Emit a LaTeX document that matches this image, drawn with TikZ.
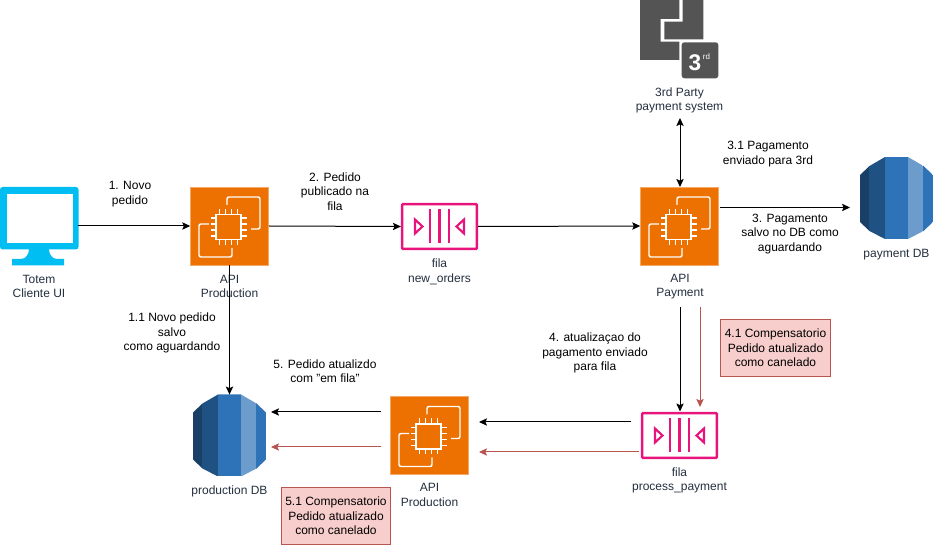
\documentclass[tikz,border=0pt]{standalone}
\usepackage{fontspec}
\setmainfont{Liberation Sans}
\usepackage{xcolor}
\usetikzlibrary{arrows.meta,shapes}
\definecolor{awsorange}{HTML}{ED7100}
\definecolor{queuepink}{HTML}{E7157B}
\definecolor{totemblue}{HTML}{00BEF2}
\definecolor{labelgrey}{HTML}{232F3E}
\definecolor{thirdgrey}{HTML}{545454}
\definecolor{compred}{HTML}{B85450}
\definecolor{compfill}{HTML}{F8CECC}
\definecolor{dbA}{HTML}{1A3F66}
\definecolor{dbB}{HTML}{1F5182}
\definecolor{dbC}{HTML}{2E73B8}
\definecolor{dbD}{HTML}{6B9CCC}
\tikzset{
	lbl/.style={align=center,inner sep=0pt,font=\fontsize{9}{10.8}\selectfont},
	iconlbl/.style={lbl,text=labelgrey},
	compbox/.style={lbl,draw=compred,fill=compfill,line width=0.6pt,minimum width=82pt,minimum height=43pt},
	apibox/.style={fill=awsorange,draw=awsorange!60,line width=0.4pt,inner sep=0pt,minimum width=58.5pt,minimum height=58.5pt},
	queuebox/.style={draw=queuepink,line width=1.9pt,rounded corners=0.6pt,inner sep=0pt,minimum width=56pt,minimum height=33.5pt},
	dbbox/.style={inner sep=0pt,minimum width=55pt,minimum height=61pt},
	iconbox/.style={inner sep=0pt,minimum width=58.5pt,minimum height=58.5pt},
	comp/.style={draw=compred},
	pics/apiicon/.style={code={
		\draw[white,line width=1.1pt,rounded corners=1.5pt]
			(-2.5,-21) -- (-2.5,-29) -- (30.5,-29) -- (30.5,3) -- (21.5,3)
			(2.5,22) -- (2.5,31) -- (-30.5,31) -- (-30.5,-2) -- (-20.5,-2);
		\draw[white,line width=1.3pt,fill=awsorange] (-13.5,-11.5) rectangle (11.5,13.5);
		\foreach \i in {-9,-3,3,9} {
			\draw[white,line width=1pt] (-1+\i,-12) -- (-1+\i,-17) (-1+\i,14) -- (-1+\i,19)
				(-14,1+\i) -- (-19,1+\i) (12,1+\i) -- (17,1+\i);
		}
	}},
	pics/queueicon/.style={code={
		\draw[queuepink,line width=1.7pt] (-9.5,-17) -- (-9.5,17) (0,-17) -- (0,17) (9.5,-17) -- (9.5,17);
		\draw[queuepink,line width=1.6pt,line join=miter] (-24.5,-7) -- (-17,0) -- (-24.5,7) -- cycle
			(24.5,-7) -- (17,0) -- (24.5,7) -- cycle;
	}},
	pics/dbicon/.style={code={
		\begin{scope}
			\clip (-36.5,-23) -- (-27,-32) -- (-11.5,-41) -- (11.5,-41) -- (27,-32) -- (36.5,-23)
				-- (36.5,24) -- (27,33) -- (11.5,41) -- (-11.5,41) -- (-27,33) -- (-36.5,24) -- cycle;
			\fill[dbA] (-36.5,-41) rectangle (-28,41);
			\fill[dbB] (-28,-41) rectangle (-11.5,41);
			\fill[dbC] (-11.5,-41) rectangle (11.5,41);
			\fill[dbD] (11.5,-41) rectangle (26.5,41);
			\fill[dbC] (26.5,-41) rectangle (36.5,41);
		\end{scope}
	}},
}
\begin{document}
\begin{tikzpicture}[x=0.75pt,y=-0.75pt,>={Stealth[length=6pt,width=5.5pt,inset=1.2pt]}]
	\useasboundingbox (0,0) rectangle (933,545);
	% icons
	\node[iconbox] (totem) at (39,226) {};
	\fill[totemblue,rounded corners=2pt] (0,187) rectangle (78.5,249.5);
	\fill[white] (7,194) rectangle (73,243);
	\fill[totemblue] (29,249) -- (49,249) to[out=-90,in=180] (57,259) -- (64,259) -- (64,265.5)
		-- (12,265.5) -- (12,259) -- (21,259) to[out=0,in=-90] (29,249) -- cycle;
	\node[apibox] (apiProd) at (229.5,226) {};
	\pic at (apiProd) {apiicon};
	\node[queuebox] (filaOrders) at (439.5,226.5) {};
	\pic at (filaOrders) {queueicon};
	\node[apibox] (apiPay) at (679.5,226) {};
	\pic at (apiPay) {apiicon};
	\node[iconbox] (third) at (679,39) {};
	\fill[thirdgrey] (640,0) -- (679.3,0) -- (679.3,19) -- (660.7,19) -- (660.7,41.7) -- (679.3,41.7)
		-- (679.3,60) -- (640,60) -- cycle;
	\fill[thirdgrey] (664.3,21.7) -- (682.7,21.7) -- (682.7,0) -- (703.3,0) -- (703.3,39.3) -- (664.3,39.3) -- cycle;
	\fill[thirdgrey,rounded corners=2pt] (681.7,42.3) rectangle (718.3,78.3);
	\node[text=white,inner sep=0pt,font=\fontsize{17}{17}\selectfont\bfseries] (thirdNum) at (695,62.5) {3};
	\node[text=white,inner sep=0pt,font=\fontsize{6}{6}\selectfont] (thirdRd) at (706.5,57) {rd};
	\node[dbbox] (payDB) at (896.5,198) {};
	\pic at (payDB) {dbicon};
	\node[dbbox] (prodDB) at (229.5,435.5) {};
	\pic at (prodDB) {dbicon};
	\node[apibox] (apiProdB) at (429.5,435.5) {};
	\pic at (apiProdB) {apiicon};
	\node[queuebox] (filaPay) at (679.5,435.5) {};
	\pic at (filaPay) {queueicon};
	% labels
	\node[iconlbl] (totemL) at (39,286.5) {Totem\\Cliente UI};
	\node[iconlbl] (apiProdL) at (229.5,286.5) {API\\Production};
	\node[iconlbl] (filaOrdersL) at (439.5,272) {fila\\new\_orders};
	\node[iconlbl] (apiPayL) at (680,286.5) {API\\Payment};
	\node[iconlbl] (thirdL) at (679.5,100.5) {3rd Party\\payment system};
	\node[iconlbl] (payDBL) at (896.5,254.5) {payment DB};
	\node[iconlbl] (prodDBL) at (229.5,491.5) {production DB};
	\node[iconlbl] (apiProdBL) at (429.5,495) {API\\Production};
	\node[iconlbl] (filaPayL) at (679.5,480.5) {fila\\process\_payment};
	\node[lbl] (novo) at (130,194) {1. Novo\\pedido};
	\node[lbl] (publicado) at (335,191.5) {2. Pedido\\publicado na\\fila};
	\node[lbl] (enviado) at (768,154) {3.1 Pagamento\\enviado para 3rd};
	\node[lbl] (salvo) at (790,234) {3. Pagamento\\salvo no DB como\\aguardando};
	\node[lbl] (aguardando) at (172,333) {1.1 Novo pedido\\salvo\\como aguardando};
	\node[lbl] (atualizado) at (325,371.5) {5. Pedido atualizdo\\com "em fila"};
	\node[lbl] (atualizacao) at (595,353) {4. atualizaçao do\\pagamento enviado\\para fila};
	\node[compbox] (compA) at (775.5,348) {4.1 Compensatorio\\Pedido atualizado\\como canelado};
	\node[compbox] (compB) at (336,516) {5.1 Compensatorio\\Pedido atualizado\\como canelado};
	% free ends
	\coordinate (thirdOut) at (680,118);
	\coordinate (thirdIn) at (680,187);
	\coordinate (payOut) at (720,207.5);
	\coordinate (payIn) at (850,207.5);
	\coordinate (payDown) at (680,307);
	\coordinate (filaPayIn) at (680,411.5);
	\coordinate (payDownR) at (700,307);
	\coordinate (filaPayInR) at (700,407);
	\coordinate (filaPayA) at (631,422);
	\coordinate (filaPayB) at (639,452);
	\coordinate (apiBA) at (479,422);
	\coordinate (apiBB) at (479,452);
	\coordinate (apiBC) at (381,412);
	\coordinate (apiBD) at (381,447);
	\coordinate (prodA) at (271,412);
	\coordinate (prodB) at (271,447);
	%
	\path[->,line width=0.75pt]
	(totem.east) edge (apiProd.west)
	(apiProd.east) edge (filaOrders.west)
	(filaOrders.east) edge (apiPay.west)
	(thirdOut) edge[<->] (thirdIn)
	(payOut) edge (payIn)
	(apiProd.south) edge (prodDB.north)
	(payDown) edge (filaPayIn)
	(filaPayA) edge (apiBA)
	(apiBC) edge (prodA)
	(payDownR) edge[comp] (filaPayInR)
	(filaPayB) edge[comp] (apiBB)
	(apiBD) edge[comp] (prodB);
\end{tikzpicture}
\end{document}
